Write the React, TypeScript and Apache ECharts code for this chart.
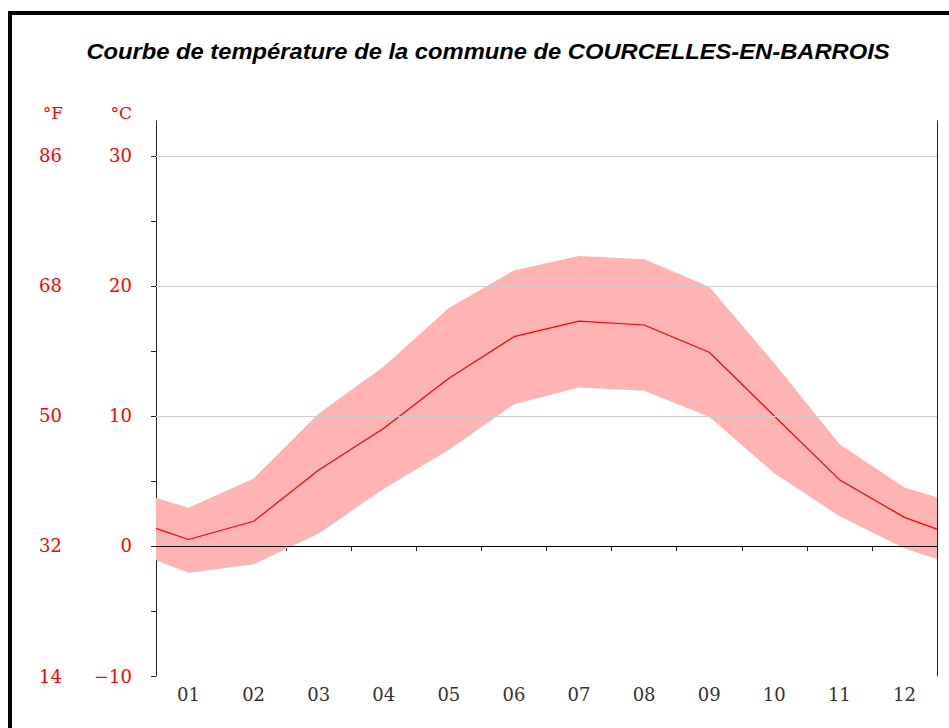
import React, { useEffect, useRef } from "react";
import * as echarts from "echarts";

const titleText = "Courbe de température de la commune de COURCELLES-EN-BARROIS";
const months = ["01", "02", "03", "04", "05", "06", "07", "08", "09", "10", "11", "12"];
const meanTemp = [0.5, 1.9, 5.85, 9.05, 12.9, 16.1, 17.3, 17.0, 14.9, 10.0, 5.1, 2.2];
const maxTemp = [2.95, 5.2, 10.2, 13.8, 18.3, 21.2, 22.3, 22.05, 19.95, 14.05, 7.85, 4.5];
const minTemp = [-2.05, -1.4, 0.97, 4.4, 7.4, 10.9, 12.2, 11.95, 9.95, 5.6, 2.3, -0.18];
// values read at the left (start of January) and right (end of December) edges
const meanEdges = [1.35, 1.3];
const maxEdges = [3.7, 3.75];
const minEdges = [-1.1, -1.0];
const yTickValues = [-10, -5, 0, 5, 10, 15, 20, 25, 30];
const celsiusLabels = [-10, 0, 10, 20, 30];
const fahrenheitLabels = ["14", "32", "50", "68", "86"];
const gridValues = [10, 20, 30];

function withEdges(vals: number[], edges: number[]): number[][] {
  const pts: number[][] = [[0, edges[0]]];
  vals.forEach((v, i) => pts.push([i + 0.5, v]));
  pts.push([months.length, edges[1]]);
  return pts;
}

export default function App() {
  const ref = useRef<HTMLDivElement>(null);
  useEffect(() => {
    if (!ref.current) return;
    const chart = echarts.init(ref.current, undefined, { renderer: "svg" });
    const lower = withEdges(minTemp, minEdges);
    const upper = withEdges(maxTemp, maxEdges);
    const mean = withEdges(meanTemp, meanEdges);
    const red = "#ff0000";
    const serif = "DejaVu Serif";
    const fmtC = (v: number) => (v < 0 ? "\u2212" + Math.abs(v) : String(v));
    chart.setOption({
      animation: false,
      graphic: [
        {
          type: "text",
          x: 488,
          y: 51,
          scaleX: 1.08,
          style: {
            text: titleText,
            font: "italic bold 22px 'Liberation Sans', Arial, sans-serif",
            fill: "#000",
            textAlign: "center",
            textVerticalAlign: "middle",
          },
        },
        {
          type: "text",
          x: 63,
          y: 113,
          style: { text: "°F", font: `17px '${serif}'`, fill: red, textAlign: "right", textVerticalAlign: "middle" },
        },
        {
          type: "text",
          x: 132,
          y: 113,
          style: { text: "°C", font: `17px '${serif}'`, fill: red, textAlign: "right", textVerticalAlign: "middle" },
        },
      ],
      grid: { left: 156, right: 12, top: 121, bottom: 52, containLabel: false },
      xAxis: [
        {
          type: "category",
          data: months,
          boundaryGap: true,
          axisLine: { lineStyle: { color: "#222", width: 1 } },
          axisTick: { show: true, interval: 0, alignWithLabel: false, length: 5, lineStyle: { color: "#222" } },
          axisLabel: { color: "#333", fontFamily: serif, fontSize: 18, margin: 9, interval: 0 },
          splitLine: { show: false },
        },
        { type: "value", min: 0, max: months.length, show: false },
      ],
      yAxis: [
        {
          type: "value",
          min: -10,
          max: 32.69,
          position: "left",
          axisLine: { show: true, lineStyle: { color: "#222", width: 1 } },
          axisTick: { show: true, customValues: yTickValues, length: 5, lineStyle: { color: "#222" } },
          axisLabel: { customValues: celsiusLabels, color: red, fontFamily: serif, fontSize: 18, margin: 24, formatter: fmtC },
          splitLine: { show: false },
        },
        {
          type: "value",
          min: -10,
          max: 32.69,
          position: "left",
          offset: 70,
          axisLine: { show: false },
          axisTick: { show: false },
          axisLabel: {
            customValues: celsiusLabels,
            color: red,
            fontFamily: serif,
            fontSize: 18,
            margin: 24,
            formatter: (v: number) => fahrenheitLabels[celsiusLabels.indexOf(v)] ?? "",
          },
          splitLine: { show: false },
        },
        {
          type: "value",
          min: -10,
          max: 32.69,
          position: "right",
          axisLine: { show: true, lineStyle: { color: "#222", width: 1 } },
          axisTick: { show: false },
          axisLabel: { show: false },
          splitLine: { show: false },
        },
      ],
      series: [
        {
          type: "line",
          xAxisIndex: 1,
          yAxisIndex: 0,
          data: [],
          z: 1,
          silent: true,
          markLine: {
            silent: true,
            symbol: "none",
            label: { show: false },
            lineStyle: { color: "#cccccc", width: 1, type: "solid" },
            data: gridValues.map((v) => ({ yAxis: v })),
          },
        },
        {
          type: "custom",
          xAxisIndex: 1,
          yAxisIndex: 0,
          data: [[0, 0]],
          z: 2,
          silent: true,
          renderItem: (params: any, api: any) => {
            const pts = upper.map((p) => api.coord(p)).concat(lower.slice().reverse().map((p) => api.coord(p)));
            return {
              type: "polygon",
              shape: { points: pts },
              style: { fill: "#ffb3b3", stroke: "none" },
            };
          },
        },
        {
          type: "line",
          xAxisIndex: 1,
          yAxisIndex: 0,
          data: mean,
          symbol: "none",
          lineStyle: { color: red, width: 1.2 },
          z: 3,
          silent: true,
          markLine: {
            silent: true,
            symbol: "none",
            label: { show: false },
            lineStyle: { color: "#000", width: 1, type: "solid" },
            data: [{ yAxis: 0 }],
          },
        },
      ],
    });
    return () => chart.dispose();
  }, []);

  return (
    <div style={{ position: "fixed", left: 0, top: 0, width: 949, height: 728, overflow: "hidden", background: "#fff" }}>
      <div
        style={{
          position: "absolute",
          left: 8,
          top: 11,
          width: 980,
          height: 760,
          border: "4px solid #000",
          boxSizing: "border-box",
        }}
      />
      <div ref={ref} style={{ position: "absolute", left: 0, top: 0, width: 949, height: 728 }} />
    </div>
  );
}
